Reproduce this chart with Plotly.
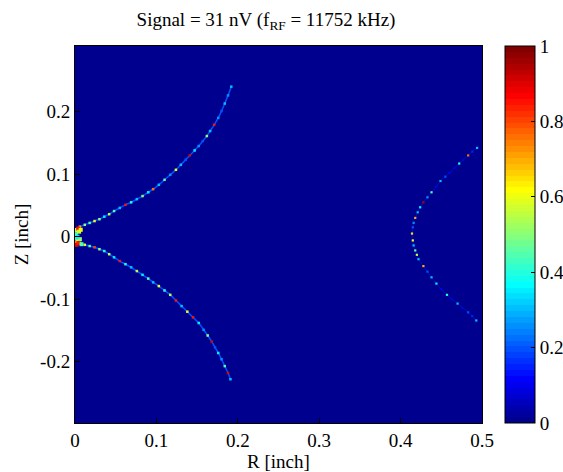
import plotly.graph_objects as go

# ---------------- data ----------------
upper_r = [0.000, 0.006, 0.012, 0.018, 0.024, 0.030, 0.036, 0.042, 0.048, 0.055,
           0.062, 0.069, 0.076, 0.083, 0.090, 0.096, 0.103, 0.110, 0.117, 0.124,
           0.130, 0.136, 0.141, 0.147, 0.152, 0.157, 0.162, 0.166, 0.171, 0.176,
           0.180, 0.184, 0.188, 0.192]
upper_z = [0.012, 0.016, 0.019, 0.022, 0.025, 0.028, 0.032, 0.036, 0.041, 0.046,
           0.051, 0.055, 0.060, 0.065, 0.071, 0.076, 0.083, 0.091, 0.099, 0.107,
           0.115, 0.123, 0.130, 0.138, 0.145, 0.153, 0.161, 0.169, 0.179, 0.190,
           0.201, 0.213, 0.226, 0.240]
upper_v = [0.55, 0.70, 0.50, 0.45, 0.60, 0.50, 0.35, 0.55, 0.45, 0.30,
           0.85, 0.40, 0.30, 0.50, 0.35, 0.75, 0.30, 0.45, 0.25, 0.60,
           0.30, 0.20, 0.90, 0.35, 0.25, 0.20, 0.50, 0.30, 0.85, 0.25,
           0.20, 0.30, 0.25, 0.30]

lower_r = [0.000, 0.006, 0.012, 0.018, 0.024, 0.030, 0.036, 0.042, 0.048, 0.055,
           0.062, 0.069, 0.076, 0.083, 0.090, 0.096, 0.103, 0.110, 0.117, 0.124,
           0.131, 0.138, 0.145, 0.152, 0.158, 0.163, 0.168, 0.172, 0.176, 0.180,
           0.184, 0.188, 0.191]
lower_z = [-0.008, -0.010, -0.013, -0.015, -0.017, -0.020, -0.023, -0.028, -0.033, -0.039,
           -0.044, -0.049, -0.055, -0.061, -0.067, -0.073, -0.079, -0.086, -0.093, -0.102,
           -0.111, -0.120, -0.129, -0.138, -0.149, -0.158, -0.168, -0.177, -0.186, -0.196,
           -0.207, -0.218, -0.228]
lower_v = [0.85, 0.55, 0.60, 0.45, 0.80, 0.50, 0.40, 0.55, 0.35, 0.85,
           0.40, 0.30, 0.55, 0.35, 0.45, 0.30, 0.60, 0.40, 0.55, 0.85,
           0.30, 0.60, 0.85, 0.35, 0.25, 0.50, 0.90, 0.20, 0.35, 0.25,
           0.45, 0.90, 0.30]

right_r = [0.494, 0.488, 0.483, 0.477, 0.472, 0.466, 0.460, 0.455, 0.449, 0.444,
           0.438, 0.433, 0.428, 0.424, 0.421, 0.418, 0.416, 0.415, 0.414, 0.415,
           0.416, 0.418, 0.420, 0.422, 0.428, 0.433, 0.438, 0.444, 0.450, 0.457,
           0.463, 0.470, 0.476, 0.483, 0.488, 0.493]
right_z = [0.142, 0.136, 0.130, 0.123, 0.117, 0.110, 0.102, 0.096, 0.089, 0.080,
           0.071, 0.063, 0.055, 0.047, 0.039, 0.030, 0.022, 0.015, 0.005, -0.006,
           -0.014, -0.022, -0.029, -0.036, -0.047, -0.056, -0.065, -0.075, -0.084, -0.093,
           -0.100, -0.107, -0.114, -0.121, -0.127, -0.134]
right_v = [0.30, 0.15, 0.75, 0.10, 0.40, 0.10, 0.12, 0.20, 0.30, 0.10,
           0.45, 0.25, 0.95, 0.35, 0.30, 0.70, 0.25, 0.20, 0.65, 0.60,
           0.30, 0.45, 0.55, 0.30, 0.70, 0.20, 0.30, 0.35, 0.10, 0.40,
           0.10, 0.30, 0.10, 0.20, 0.15, 0.30]

cusp_r = [0.001, 0.001, 0.002, 0.003, 0.004, 0.005, 0.002, 0.006, 0.003, 0.007, 0.004, 0.008]
cusp_z = [0.010, 0.004, -0.002, -0.008, 0.013, 0.008, -0.013, -0.004, 0.000, 0.011, -0.010, -0.012]
cusp_v = [0.55, 0.45, 0.40, 0.60, 0.85, 0.55, 0.90, 0.50, 0.35, 0.60, 0.85, 0.45]

title_text = "Signal = 31 nV (f<sub>RF</sub> = 11752 kHz)"
x_ticks = [0, 0.1, 0.2, 0.3, 0.4, 0.5]
y_ticks = [-0.2, -0.1, 0, 0.1, 0.2]
cb_ticks = [0, 0.2, 0.4, 0.6, 0.8, 1]

# ---------------- MATLAB jet(64) colorscale ----------------
def clip(v):
    return max(0.0, min(1.0, v))

N = 64
jet = []
for i in range(N):
    t = (i + 1) / N
    r = clip(1.5 - abs(4 * t - 3))
    g = clip(1.5 - abs(4 * t - 2))
    b = clip(1.5 - abs(4 * t - 1))
    col = "rgb(%d,%d,%d)" % (round(r * 255), round(g * 255), round(b * 255))
    jet.append([i / N, col])
    jet.append([(i + 1) / N, col])

FONT = "Liberation Serif"
FS = 19
BG = jet[0][1]

PL, PR, PT, PB = 75, 482, 46, 423
W, H = 563, 472

fig = go.Figure()


def add_branch(rs, zs, vs, line_col, line_w, msize):
    fig.add_trace(go.Scatter(x=rs, y=zs, mode="lines",
                             line=dict(color=line_col, width=line_w, shape="spline"),
                             hoverinfo="skip", showlegend=False))
    fig.add_trace(go.Scatter(x=rs, y=zs, mode="markers",
                             marker=dict(color=vs, colorscale=jet, cmin=0, cmax=1,
                                         size=msize, symbol="square",
                                         line=dict(width=0), showscale=False),
                             showlegend=False))


add_branch(upper_r, upper_z, upper_v, "rgb(0,80,255)", 1.5, 2.5)
add_branch(lower_r, lower_z, lower_v, "rgb(0,80,255)", 1.5, 2.5)
add_branch(right_r, right_z, right_v, "rgb(0,20,200)", 0.8, 2.2)
fig.add_trace(go.Scatter(
    x=cusp_r, y=cusp_z, mode="markers",
    marker=dict(color=cusp_v, colorscale=jet, cmin=0, cmax=1, size=4,
                symbol="square", line=dict(width=0), showscale=True,
                colorbar=dict(
                    x=(505 - PL) / (PR - PL), xanchor="left", xpad=0,
                    y=0.5, yanchor="middle", len=1, lenmode="fraction", ypad=0,
                    thickness=30, thicknessmode="pixels",
                    outlinecolor="black", outlinewidth=1,
                    tickvals=cb_ticks, ticktext=[("%g" % v) for v in cb_ticks],
                    ticks="inside", ticklen=4, tickcolor="black",
                    tickfont=dict(family=FONT, size=FS, color="black"))),
    showlegend=False))

axis_common = dict(showline=True, linecolor="black", linewidth=1, mirror=True,
                   ticks="inside", ticklen=5, tickcolor="black", showgrid=False,
                   zeroline=False, tickfont=dict(family=FONT, size=FS, color="black"))

fig.update_layout(
    width=W, height=H,
    margin=dict(l=PL, r=W - PR, t=PT, b=H - PB, autoexpand=False),
    paper_bgcolor="white", plot_bgcolor=BG,
    font=dict(family=FONT, size=FS, color="black"),
    title=dict(text=title_text, x=266 / W, xanchor="center",
               y=1 - 19 / H, yanchor="middle", yref="container",
               font=dict(family=FONT, size=FS, color="black")),
    xaxis=dict(range=[0, 0.5], tickvals=x_ticks, ticktext=["%g" % v for v in x_ticks],
               title=dict(text="R [inch]", font=dict(family=FONT, size=FS, color="black"),
                          standoff=0), **axis_common),
    yaxis=dict(range=[-0.298, 0.305], tickvals=y_ticks,
               ticktext=["%g" % v for v in y_ticks],
               title=dict(text="Z [inch]", font=dict(family=FONT, size=FS, color="black"),
                          standoff=6), **axis_common),
    showlegend=False,
)

fig.write_html("out.html")
